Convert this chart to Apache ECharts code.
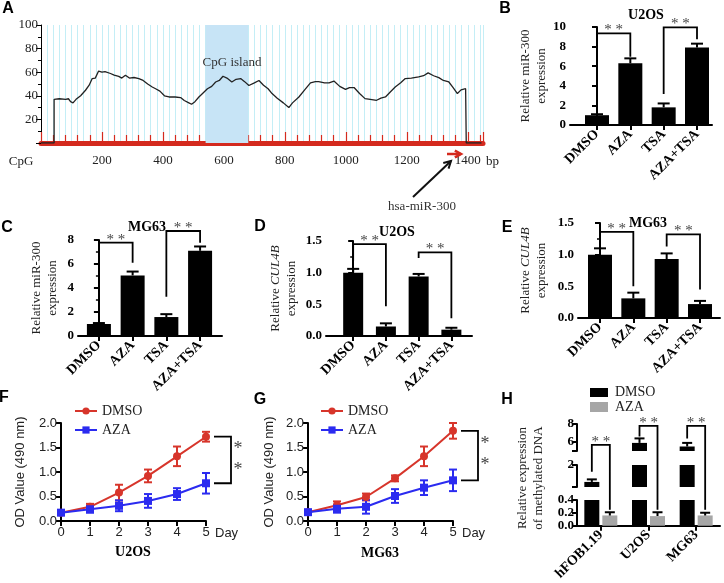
<!DOCTYPE html>
<html>
<head>
<meta charset="utf-8">
<script src="https://cdn.jsdelivr.net/npm/echarts@6/dist/echarts.min.js"></script>
<style>
  html, body { margin: 0; padding: 0; background: #fff; }
  #main { width: 724px; height: 583px; }
</style>
</head>
<body>
<div id="main"></div>
<script>
const SERIF = '"Liberation Serif", "Times New Roman", serif'
const SANS = '"Liberation Sans", Arial, sans-serif'
const RED = '#d42a1e'

// A: CpG profile (bp position, CpG %)
const cpgPos = [0, 43, 43, 60, 81, 90, 97, 105, 115, 130, 146, 158, 168, 178, 189, 200, 210, 228, 240, 255, 265, 277, 290, 305, 321, 335, 350, 365, 376, 390, 405, 420, 440, 458, 470, 485, 494, 505, 518, 530, 546, 560, 573, 585, 597, 610, 626, 640, 655, 668, 682, 700, 715, 730, 745, 758, 775, 795, 813, 825, 846, 865, 884, 900, 911, 930, 945, 961, 980, 999, 1012, 1027, 1045, 1063, 1080, 1101, 1115, 1130, 1145, 1162, 1180, 1195, 1215, 1239, 1255, 1270, 1288, 1305, 1320, 1338, 1352, 1366, 1378, 1393, 1395, 1445]
const cpgPct = [0, 0, 37, 37.5, 37, 37.5, 35, 34, 37, 40, 44.7, 49, 54.6, 55, 61, 60, 60.5, 58.9, 57.5, 56.5, 55, 57.5, 55, 55.5, 54.6, 53, 50, 47.5, 46, 44, 40, 39, 39, 38.5, 36, 34, 32.8, 35, 39, 42, 46, 48, 51.7, 53, 56.6, 55, 51.7, 54, 54.6, 52, 48.7, 51, 53, 49, 46, 41.9, 38, 34, 30, 34, 39, 45, 51, 52, 52, 51, 51, 52.5, 48, 45.4, 47, 47, 42, 37.6, 37, 36.2, 38, 39, 43, 47.4, 51, 54.6, 55, 56, 57, 59.4, 57, 55.4, 53, 51.7, 47, 41.9, 45, 46, 0, 0]
const islandRange = [540, 680]

// B-E: treatment bar charts
const treatCats = ['DMSO', 'AZA', 'TSA', 'AZA+TSA']
const bVals = [1.0, 6.3, 1.8, 7.9]
const bErr = [0.1, 0.5, 0.4, 0.4]
const cVals = [1.0, 5.05, 1.58, 7.1]
const cErr = [0.08, 0.32, 0.24, 0.36]
const dVals = [1.0, 0.15, 0.94, 0.1]
const dErr = [0.06, 0.05, 0.04, 0.03]
const eVals = [1.0, 0.31, 0.93, 0.22]
const eErr = [0.1, 0.09, 0.09, 0.05]
// significance brackets: [from, to, left leg end, top, right leg end]
const bBrackets = [[0, 1, 2.4, 9.35, 6.97], [2, 3, 3.16, 9.97, 8.75]]
const cBrackets = [[0, 1, 2.3, 7.78, 6.1], [2, 3, 3.28, 8.75, 7.78]]
const dBrackets = [[0, 1, 1.19, 1.45, 0.47], [2, 3, 1.23, 1.32, 0.28]]
const eBrackets = [[0, 1, 1.2, 1.36, 0.5], [2, 3, 1.13, 1.32, 0.45]]

// F, G: growth curves
const days = [0, 1, 2, 3, 4, 5]
const fDmso = [0.17, 0.29, 0.58, 0.92, 1.32, 1.72]
const fDmsoErr = [0.04, 0.06, 0.16, 0.13, 0.2, 0.1]
const fAza = [0.17, 0.24, 0.31, 0.41, 0.55, 0.77]
const fAzaErr = [0.04, 0.07, 0.11, 0.14, 0.12, 0.21]
const gDmso = [0.18, 0.32, 0.49, 0.87, 1.32, 1.84]
const gDmsoErr = [0.04, 0.08, 0.07, 0.06, 0.2, 0.16]
const gAza = [0.18, 0.25, 0.29, 0.51, 0.68, 0.83]
const gAzaErr = [0.04, 0.08, 0.14, 0.14, 0.15, 0.22]

// H: methylated DNA (broken axis)
const hCats = ['hFOB1.19', 'U2OS', 'MG63']
const hDmso = [1.0, 5.9, 5.5]
const hDmsoErr = [0.15, 0.5, 0.4]
const hAza = [0.16, 0.15, 0.16]
const hAzaErr = [0.05, 0.06, 0.04]
// [category, grid of left leg, left leg end, top (upper segment), right leg end (lower segment)]
const hBrackets = [[0, 8, 1.6, 5.67, 0.25], [1, 7, 6.6, 7.8, 0.25], [2, 7, 6.4, 7.8, 0.25]]

const chart = echarts.init(document.getElementById('main'))

const axisBlack = { show: true, lineStyle: { color: '#000', width: 2 } }
const tickBlack = { show: true, length: 5, lineStyle: { color: '#000', width: 2 } }
const boldLabel = { fontFamily: SERIF, fontWeight: 'bold', fontSize: 13, color: '#000' }
const catLabel = { fontFamily: SERIF, fontWeight: 'bold', fontSize: 14, color: '#000' }

function catValueAxis(k, min, max) {
  return {
    gridIndex: k, type: 'value', min: min, max: max,
    axisLine: axisBlack,
    axisTick: Object.assign({ customValues: [0, 1, 2, 3] }, tickBlack),
    axisLabel: Object.assign({ customValues: [0, 1, 2, 3], rotate: 45, margin: 7, formatter: v => treatCats[Math.round(v)] }, catLabel),
    splitLine: { show: false }
  }
}

function barYAxis(k, max, interval, minor, digits, name, gap) {
  return {
    gridIndex: k, type: 'value', min: 0, max: max, interval: interval,
    axisLine: axisBlack, axisTick: tickBlack,
    minorTick: { show: minor > 0, splitNumber: minor || 5, length: 3, lineStyle: { color: '#000', width: 1.5 } },
    axisLabel: Object.assign({ margin: 4, formatter: v => v.toFixed(digits) }, boldLabel),
    splitLine: { show: false },
    name: name, nameLocation: 'middle', nameGap: gap,
    nameTextStyle: { fontFamily: SERIF, fontSize: 13, color: '#222', lineHeight: 16, rich: { i: { fontStyle: 'italic', fontFamily: SERIF, fontSize: 13 } } }
  }
}

function lineXAxis(k) {
  return {
    gridIndex: k, type: 'value', min: 0, max: 5, interval: 1,
    axisLine: axisBlack, axisTick: tickBlack,
    axisLabel: { margin: 5, fontFamily: SANS, fontSize: 13, color: '#222' },
    splitLine: { show: false },
    name: 'Day', nameLocation: 'end', nameGap: 9,
    nameTextStyle: { fontFamily: SANS, fontSize: 13, color: '#222', align: 'left', verticalAlign: 'top', padding: [6, 0, 0, 0] }
  }
}

function lineYAxis(k, gap) {
  return {
    gridIndex: k, type: 'value', min: 0, max: 2, interval: 0.5,
    axisLine: axisBlack, axisTick: tickBlack,
    axisLabel: { margin: 4, fontFamily: SANS, fontSize: 13, color: '#222', formatter: v => v.toFixed(1) },
    splitLine: { show: false },
    name: 'OD Value (490 nm)', nameLocation: 'middle', nameGap: gap,
    nameTextStyle: { fontFamily: SANS, fontSize: 13, color: '#222' }
  }
}

function errBars(xi, yi, xs, vals, errs, color, capW, lw, upOnly, dx, clip) {
  return {
    type: 'custom', xAxisIndex: xi, yAxisIndex: yi, z: 3, silent: true, clip: !!clip,
    data: xs.map((x, i) => [x, upOnly ? vals[i] : vals[i] - errs[i], vals[i] + errs[i]]),
    encode: { x: 0, y: [1, 2] },
    renderItem: (params, api) => {
      const lo = api.coord([api.value(0), api.value(1)])
      const hi = api.coord([api.value(0), api.value(2)])
      const x = lo[0] + (dx || 0)
      const st = { stroke: color, lineWidth: lw }
      const parts = [
        { type: 'line', shape: { x1: x, y1: lo[1], x2: x, y2: hi[1] }, style: st },
        { type: 'line', shape: { x1: x - capW / 2, y1: hi[1], x2: x + capW / 2, y2: hi[1] }, style: st }
      ]
      if (!upOnly) parts.push({ type: 'line', shape: { x1: x - capW / 2, y1: lo[1], x2: x + capW / 2, y2: lo[1] }, style: st })
      return { type: 'group', children: parts }
    }
  }
}

function bracketSeries(k, brackets) {
  return {
    type: 'custom', xAxisIndex: k, yAxisIndex: k, z: 4, silent: true,
    data: brackets,
    encode: { x: [0, 1], y: [2, 3, 4] },
    renderItem: (params, api) => {
      const a = api.coord([api.value(0), api.value(2)])
      const b = api.coord([api.value(0), api.value(3)])
      const c = api.coord([api.value(1), api.value(3)])
      const d = api.coord([api.value(1), api.value(4)])
      return {
        type: 'group', children: [
          { type: 'polyline', shape: { points: [a, b, c, d] }, style: { stroke: '#000', lineWidth: 1.8, fill: null } },
          { type: 'text', x: (b[0] + c[0]) / 2, y: b[1] - 3, style: { text: '* *', font: '15px ' + SERIF, fill: '#444', align: 'center', verticalAlign: 'middle' } }
        ]
      }
    }
  }
}

function sideBracket(k, day, top, bottom) {
  return {
    type: 'custom', xAxisIndex: k, yAxisIndex: k, z: 4, silent: true,
    data: [[day, top, bottom]],
    encode: { x: 0, y: [1, 2] },
    renderItem: (params, api) => {
      const p1 = api.coord([api.value(0), api.value(1)])
      const p2 = api.coord([api.value(0), api.value(2)])
      const x1 = p1[0] + 8, x2 = p1[0] + 25, mid = (p1[1] + p2[1]) / 2
      const star = y => ({ type: 'text', x: p1[0] + 32, y: y, style: { text: '*', font: '18px ' + SERIF, fill: '#444', align: 'center', verticalAlign: 'middle' } })
      return {
        type: 'group', children: [
          { type: 'polyline', shape: { points: [[x1, p1[1]], [x2, p1[1]], [x2, p2[1]], [x1, p2[1]]] }, style: { stroke: '#000', lineWidth: 1.8, fill: null } },
          star(mid - 11), star(mid + 10)
        ]
      }
    }
  }
}

function barSeries(k, vals, w) {
  return { type: 'bar', xAxisIndex: k, yAxisIndex: k, barWidth: w, itemStyle: { color: '#000' }, data: vals.map((v, i) => [i, v]), z: 2 }
}

function lineSeries(k, name, vals, color, symbol) {
  return {
    type: 'line', name: name, xAxisIndex: k, yAxisIndex: k, symbol: symbol, symbolSize: 8,
    lineStyle: { color: color, width: 2 }, itemStyle: { color: color }, z: 4,
    data: days.map((d, i) => [d, vals[i]])
  }
}

const hXAxis = (k, visible) => ({
  gridIndex: k, type: 'category', data: hCats, show: visible,
  axisLine: axisBlack, axisTick: Object.assign({ alignWithLabel: true }, tickBlack),
  axisLabel: Object.assign({ rotate: 45, margin: 7 }, catLabel)
})
const hYAxis = (k, min, max, extra) => Object.assign({
  gridIndex: k, type: 'value', min: min, max: max,
  axisLine: axisBlack, axisTick: tickBlack,
  axisLabel: Object.assign({ margin: 3 }, boldLabel),
  splitLine: { show: false }
}, extra)

const legendF = (left) => ({
  left: left, top: 404, padding: 0, orient: 'vertical', itemWidth: 22, itemHeight: 9, itemGap: 5,
  textStyle: { fontFamily: SERIF, fontSize: 14, color: '#222' }, data: ['DMSO', 'AZA']
})

const option = {
  backgroundColor: '#fff',
  animation: false,
  legend: [legendF(74), legendF(320)],
  grid: [
    { left: 41, top: 25, width: 442, height: 118 },  // A
    { left: 570, top: 27, width: 142, height: 98 },  // B
    { left: 78, top: 240, width: 144, height: 96 },  // C
    { left: 326, top: 241, width: 146, height: 95 }, // D
    { left: 578, top: 223, width: 142, height: 95 }, // E
    { left: 61, top: 423, width: 145, height: 98 },  // F
    { left: 308, top: 423, width: 145, height: 98 }, // G
    { left: 577, top: 424, width: 143, height: 27 }, // H top
    { left: 577, top: 465, width: 143, height: 22 }, // H mid
    { left: 577, top: 500, width: 143, height: 27 }  // H bottom
  ],
  xAxis: [
    {
      gridIndex: 0, type: 'value', min: 0, max: 1450, interval: 200, offset: 2.5,
      axisLine: { show: true, lineStyle: { color: RED, width: 5 } },
      axisTick: { show: true, inside: true, length: 11, lineStyle: { color: RED, width: 1.2 } },
      minorTick: { show: true, splitNumber: 5, length: 8, lineStyle: { color: RED, width: 1.2 } },
      axisLabel: { margin: 9, fontFamily: SERIF, fontSize: 13, color: '#222', formatter: v => (v === 0 ? '' : v) },
      splitLine: { show: false }
    },
    catValueAxis(1, -0.81, 3.45),
    catValueAxis(2, -0.62, 3.65),
    catValueAxis(3, -0.83, 3.63),
    catValueAxis(4, -0.66, 3.6),
    lineXAxis(5),
    lineXAxis(6),
    hXAxis(7, false),
    hXAxis(8, false),
    hXAxis(9, true),
    {
      gridIndex: 0, type: 'value', min: 0, max: 1450, interval: 20,
      axisLine: { show: false }, axisTick: { show: false }, axisLabel: { show: false },
      splitLine: { show: true, lineStyle: { color: '#c4eef6', width: 1 } }
    }
  ],
  yAxis: [
    {
      gridIndex: 0, type: 'value', min: 0, max: 100, interval: 20,
      axisLine: { show: true, lineStyle: { color: '#000', width: 1 } },
      axisTick: { show: true, length: 5, lineStyle: { color: '#000' } },
      minorTick: { show: true, splitNumber: 2, length: 3, lineStyle: { color: '#000' } },
      axisLabel: { margin: 3, fontFamily: SERIF, fontSize: 13, color: '#222', formatter: v => (v === 0 ? '' : v) },
      splitLine: { show: false }
    },
    barYAxis(1, 10, 2, 0, 0, 'Relative miR-300\nexpression', 18),
    barYAxis(2, 8, 2, 2, 0, 'Relative miR-300\nexpression', 17),
    barYAxis(3, 1.5, 0.5, 2, 1, 'Relative {i|CUL4B}\nexpression', 26),
    barYAxis(4, 1.5, 0.5, 2, 1, 'Relative {i|CUL4B}\nexpression', 28),
    lineYAxis(5, 34),
    lineYAxis(6, 32),
    hYAxis(7, 5, 8, { axisTick: Object.assign({ customValues: [5, 6, 8] }, tickBlack), axisLabel: Object.assign({ margin: 3, customValues: [6, 8] }, boldLabel) }),
    hYAxis(8, 0.7, 2, { axisTick: Object.assign({ customValues: [0.7, 2] }, tickBlack), axisLabel: Object.assign({ margin: 3, customValues: [2] }, boldLabel) }),
    hYAxis(9, 0, 0.4, { interval: 0.1, axisLabel: Object.assign({ margin: 3, showMinLabel: true, showMaxLabel: true, hideOverlap: false, formatter: v => v.toFixed(1) }, boldLabel) })
  ],
  series: [
    {
      type: 'line', xAxisIndex: 0, yAxisIndex: 0, symbol: 'none', z: 3,
      lineStyle: { color: '#222', width: 1.3 },
      data: cpgPos.map((p, i) => [p, cpgPct[i]]),
      markArea: { silent: true, itemStyle: { color: '#c7e4f6' }, data: [[{ xAxis: islandRange[0] }, { xAxis: islandRange[1] }]] }
    },
    barSeries(1, bVals, 24), errBars(1, 1, [0, 1, 2, 3], bVals, bErr, '#000', 12, 2, true), bracketSeries(1, bBrackets),
    barSeries(2, cVals, 24), errBars(2, 2, [0, 1, 2, 3], cVals, cErr, '#000', 12, 2, true), bracketSeries(2, cBrackets),
    barSeries(3, dVals, 20), errBars(3, 3, [0, 1, 2, 3], dVals, dErr, '#000', 12, 2, true), bracketSeries(3, dBrackets),
    barSeries(4, eVals, 24), errBars(4, 4, [0, 1, 2, 3], eVals, eErr, '#000', 12, 2, true), bracketSeries(4, eBrackets),
    lineSeries(5, 'DMSO', fDmso, '#d7352b', 'circle'),
    lineSeries(5, 'AZA', fAza, '#2b2bf0', 'rect'),
    errBars(5, 5, days, fDmso, fDmsoErr, '#d7352b', 8, 2, false),
    errBars(5, 5, days, fAza, fAzaErr, '#2b2bf0', 8, 2, false),
    sideBracket(5, 5, fDmso[5], fAza[5]),
    lineSeries(6, 'DMSO', gDmso, '#d7352b', 'circle'),
    lineSeries(6, 'AZA', gAza, '#2b2bf0', 'rect'),
    errBars(6, 6, days, gDmso, gDmsoErr, '#d7352b', 8, 2, false),
    errBars(6, 6, days, gAza, gAzaErr, '#2b2bf0', 8, 2, false),
    sideBracket(6, 5, gDmso[5], gAza[5])
  ]
}

// H: the same bars in each of the three axis segments
;[7, 8, 9].forEach(k => {
  option.series.push(
    { type: 'bar', name: 'hDMSO', xAxisIndex: k, yAxisIndex: k, barWidth: 15, barGap: '20%', clip: true, itemStyle: { color: '#000' }, data: hDmso },
    { type: 'bar', name: 'hAZA', xAxisIndex: k, yAxisIndex: k, barWidth: 15, barGap: '20%', clip: true, itemStyle: { color: '#a6a6a6' }, data: hAza },
    errBars(k, k, [0, 1, 2], hDmso, hDmsoErr, '#000', 10, 2, true, -9, true),
    errBars(k, k, [0, 1, 2], hAza, hAzaErr, '#000', 10, 2, true, 9, true)
  )
})

chart.setOption(option)

function txt(text, x, y, font, extra) {
  return { type: 'text', x: x, y: y, z: 10, style: Object.assign({ text: text, font: font, fill: '#222', align: 'center', verticalAlign: 'middle' }, extra || {}) }
}
function arrow(x1, y1, x2, y2, color, lw, head) {
  const ang = Math.atan2(y2 - y1, x2 - x1)
  const h1 = [x2 - head * Math.cos(ang - 0.5), y2 - head * Math.sin(ang - 0.5)]
  const h2 = [x2 - head * Math.cos(ang + 0.5), y2 - head * Math.sin(ang + 0.5)]
  return [
    { type: 'line', z: 10, shape: { x1: x1, y1: y1, x2: x2, y2: y2 }, style: { stroke: color, lineWidth: lw } },
    { type: 'polyline', z: 10, shape: { points: [h1, [x2, y2], h2] }, style: { stroke: color, lineWidth: lw, fill: null } }
  ]
}

const letterFont = 'bold 16px ' + SANS
const titleFont = 'bold 14px ' + SERIF
const graphic = [
  txt('A', 8, 9, letterFont, { fill: '#000' }),
  txt('B', 505, 9, letterFont, { fill: '#000' }),
  txt('C', 7, 228, letterFont, { fill: '#000' }),
  txt('D', 260, 227, letterFont, { fill: '#000' }),
  txt('E', 507, 228, letterFont, { fill: '#000' }),
  txt('F', 4, 398, letterFont, { fill: '#000' }),
  txt('G', 260, 400, letterFont, { fill: '#000' }),
  txt('H', 507, 400, letterFont, { fill: '#000' }),
  txt('CpG island', 232, 63, '13px ' + SERIF, { fill: '#333' }),
  txt('CpG', 21, 162, '13px ' + SERIF, { fill: '#222' }),
  txt('bp', 486, 162, '13px ' + SERIF, { fill: '#222', align: 'left' }),
  txt('hsa-miR-300', 422, 207, '13px ' + SERIF, { fill: '#333' }),
  txt('U2OS', 646, 15, titleFont, { fill: '#000' }),
  txt('MG63', 147, 227, titleFont, { fill: '#000' }),
  txt('U2OS', 397, 232, titleFont, { fill: '#000' }),
  txt('MG63', 648, 223, titleFont, { fill: '#000' }),
  txt('U2OS', 133, 552, titleFont, { fill: '#000' }),
  txt('MG63', 380, 553, titleFont, { fill: '#000' }),
  { type: 'rect', z: 10, shape: { x: 590, y: 388, width: 18, height: 9 }, style: { fill: '#000' } },
  { type: 'rect', z: 10, shape: { x: 590, y: 402, width: 18, height: 10 }, style: { fill: '#a6a6a6' } },
  txt('DMSO', 615, 392, '14px ' + SERIF, { align: 'left' }),
  txt('AZA', 615, 407, '14px ' + SERIF, { align: 'left' }),
  Object.assign(txt('Relative expression\nof methylated DNA', 531, 478, '13px ' + SERIF, { lineHeight: 16 }), { rotation: Math.PI / 2 })
].concat(arrow(447, 154, 461, 154, RED, 2.5, 7), arrow(413, 197, 451, 161, '#111', 2, 8))

// H brackets span the axis segments, so place them through each grid's own scale
hBrackets.forEach(b => {
  const legX = chart.convertToPixel({ gridIndex: 7 }, [b[0], 6])[0]
  const leg1 = chart.convertToPixel({ gridIndex: b[1] }, [b[0], b[2]])[1]
  const top = chart.convertToPixel({ gridIndex: 7 }, [b[0], b[3]])[1]
  const leg2 = chart.convertToPixel({ gridIndex: 9 }, [b[0], b[4]])[1]
  const x1 = legX - 9, x2 = legX + 9
  graphic.push({ type: 'polyline', z: 10, shape: { points: [[x1, leg1], [x1, top], [x2, top], [x2, leg2]] }, style: { stroke: '#000', lineWidth: 1.8, fill: null } })
  graphic.push(txt('* *', legX, top - 3, '15px ' + SERIF, { fill: '#444' }))
})

chart.setOption({ graphic: graphic })
</script>
</body>
</html>
